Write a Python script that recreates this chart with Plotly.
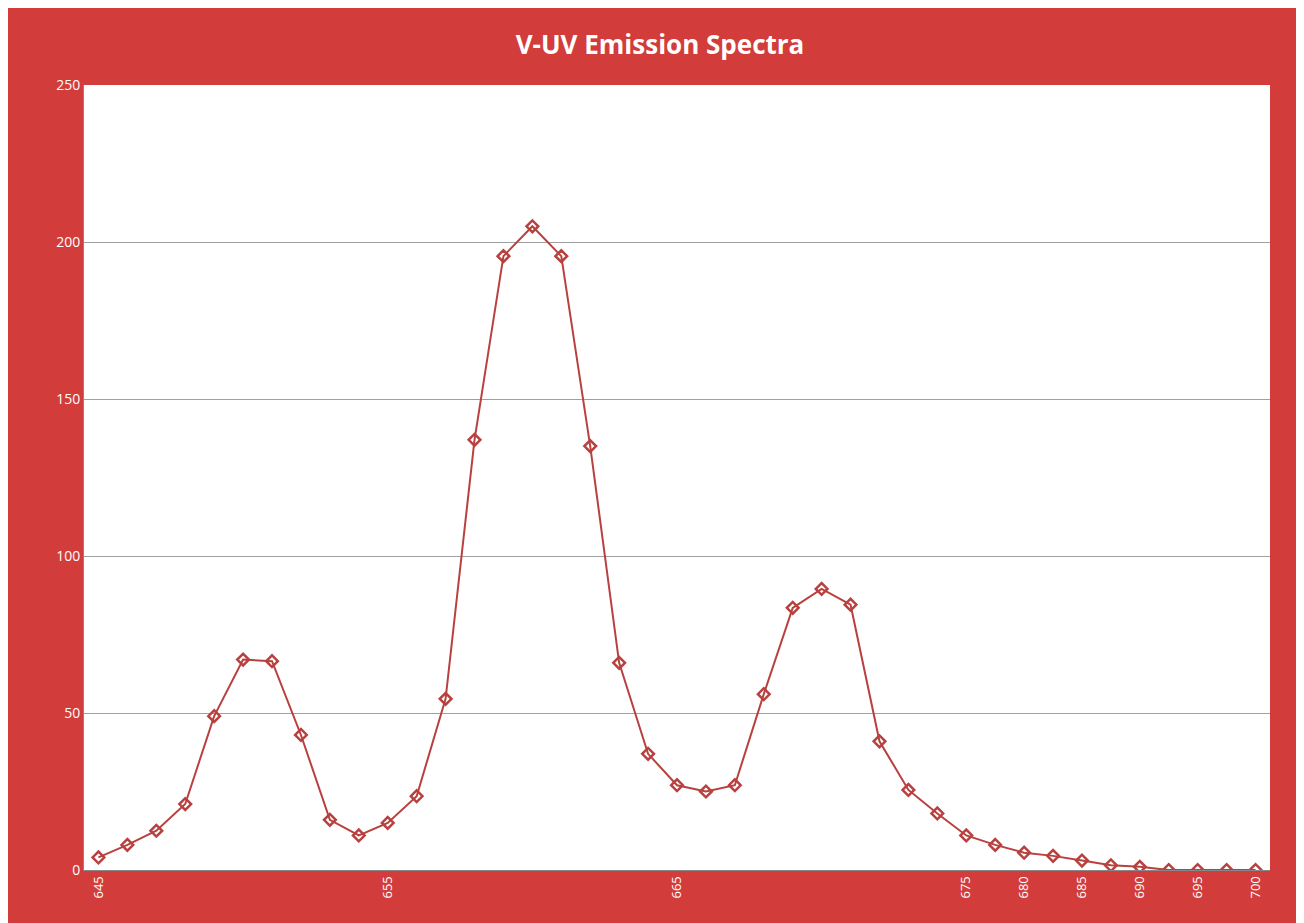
import plotly.graph_objects as go

wavelengths = [str(v) for v in range(645, 675)] + ["675","677.5","680","682.5","685","687.5","690","692.5","695","697.5","700"]
intensity = [4, 8, 12.5, 21, 49, 67, 66.5, 43, 16, 11, 15, 23.5, 54.5, 137, 195.5, 205, 195.5, 135, 66, 37,
             27, 25, 27, 56, 83.5, 89.5, 84.5, 41, 25.5, 18, 11, 8, 5.5, 4.5, 3, 1.5, 1, 0, 0, 0, 0]
tick_labels = ["645","655","665","675","680","685","690","695","700"]

fig = go.Figure(go.Scatter(
    x=wavelengths, y=intensity, mode="lines+markers",
    line=dict(color="#b8413f", width=2),
    marker=dict(symbol="diamond-open", size=9, color="#b8413f", line=dict(width=2.5)),
))
fig.update_layout(
    width=1304, height=923,
    paper_bgcolor="#d23c3a", plot_bgcolor="white",
    margin=dict(l=76, r=42, t=77, b=61),
    title=dict(text="<b>V-UV Emission Spectra</b>", x=0.5, y=0.97, xanchor="center",
               font=dict(family="Open Sans", size=26, color="white")),
    showlegend=False,
    xaxis=dict(type="category", tickmode="array", tickvals=tick_labels, ticktext=tick_labels,
               tickangle=-90, tickfont=dict(color="white", size=13, family="Open Sans"),
               showgrid=False, showline=True, linecolor="#888", range=[-0.5, 40.5]),
    yaxis=dict(range=[0, 250], dtick=50, gridcolor="#a0a0a0",
               tickfont=dict(color="white", size=14, family="Open Sans"), zeroline=False,
               showline=True, linecolor="#888"),
)
fig.write_html("out.html")
